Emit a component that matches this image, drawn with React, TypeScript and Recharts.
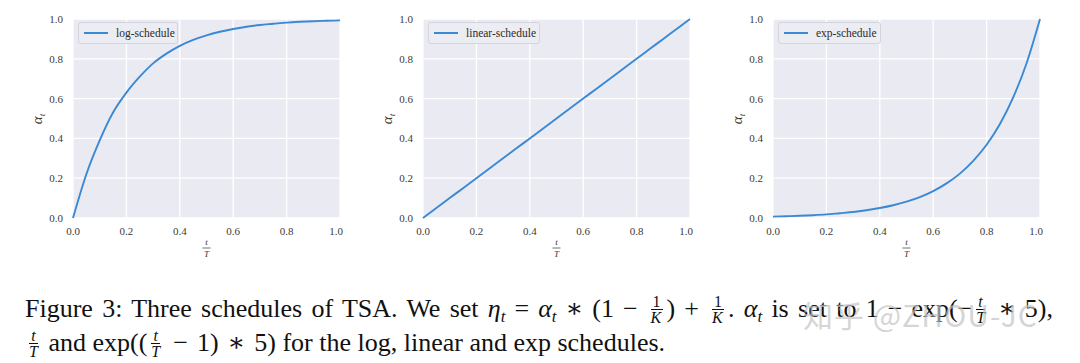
import React from "react";
import { LineChart, Line, XAxis, YAxis, CartesianGrid, Label } from "recharts";

// x positions (t / T) the curves were read at
const steps = [0, 0.05, 0.1, 0.15, 0.2, 0.25, 0.3, 0.35, 0.4, 0.45, 0.5, 0.55, 0.6, 0.65, 0.7, 0.75, 0.8, 0.85, 0.9, 0.95, 1.0];
const logValues = [0, 0.22, 0.39, 0.53, 0.63, 0.71, 0.777, 0.826, 0.865, 0.895, 0.918, 0.936, 0.95, 0.961, 0.97, 0.976, 0.982, 0.986, 0.989, 0.991, 0.993];
const linearValues = [0, 0.05, 0.1, 0.15, 0.2, 0.25, 0.3, 0.35, 0.4, 0.45, 0.5, 0.55, 0.6, 0.65, 0.7, 0.75, 0.8, 0.85, 0.9, 0.95, 1.0];
const expValues = [0.007, 0.009, 0.011, 0.014, 0.018, 0.024, 0.03, 0.039, 0.05, 0.064, 0.082, 0.105, 0.135, 0.174, 0.223, 0.287, 0.368, 0.472, 0.607, 0.779, 1.0];
const ticks = [0, 0.2, 0.4, 0.6, 0.8, 1.0];

const PANELS = [
  { name: "log-schedule", values: logValues, left: 23, legendW: 100 },
  { name: "linear-schedule", values: linearValues, left: 373, legendW: 112 },
  { name: "exp-schedule", values: expValues, left: 723, legendW: 103 },
];

const BLUE = "#3a89d4";
const SERIF = "'Liberation Serif', 'DejaVu Serif', serif";
const tickStyle = { fontSize: 11, fill: "#3a3a3a", fontFamily: SERIF };

function Panel({ name, values, left, legendW }: { name: string; values: number[]; left: number; legendW: number }) {
  const data = steps.map((x, i) => ({ x, y: values[i] }));
  return (
    <div style={{ position: "absolute", left, top: 0, fontFamily: SERIF }}>
      <LineChart width={320} height={270} data={data} margin={{ top: 19, right: 3, left: 0, bottom: 0 }} style={{ fontFamily: SERIF }}>
        <CartesianGrid fill="#eaeaf2" stroke="#ffffff" strokeWidth={1.3} horizontalValues={ticks} verticalValues={ticks} />
        <XAxis
          dataKey="x"
          type="number"
          domain={[0, 1]}
          ticks={ticks}
          tickFormatter={(v: number) => v.toFixed(1)}
          axisLine={false}
          tickLine={false}
          tick={tickStyle}
          tickSize={6}
          tickMargin={3}
          height={52}
        >
          <Label
            content={() => (
              <g fontFamily={SERIF} fill="#333" fontStyle="italic" fontSize={9}>
                <text x={183.5} y={245} textAnchor="middle">t</text>
                <line x1={179.5} x2={187.5} y1={248} y2={248} stroke="#333" strokeWidth={0.7} />
                <text x={183.5} y={257} textAnchor="middle">T</text>
              </g>
            )}
          />
        </XAxis>
        <YAxis
          type="number"
          domain={[0, 1]}
          ticks={ticks}
          tickFormatter={(v: number) => v.toFixed(1)}
          axisLine={false}
          tickLine={false}
          tick={tickStyle}
          tickSize={8}
          tickMargin={2}
          width={50}
        >
          <Label
            content={() => (
              <text
                x={0}
                y={0}
                transform="translate(19 119) rotate(-90)"
                textAnchor="middle"
                fontFamily={SERIF}
                fontSize={15}
                fill="#333"
              >
                <tspan fontStyle="italic">α</tspan>
                <tspan fontSize={9} dy={3} fontStyle="italic">t</tspan>
              </text>
            )}
          />
        </YAxis>
        <Line
          type="monotone"
          dataKey="y"
          stroke={BLUE}
          strokeWidth={1.9}
          dot={false}
          isAnimationActive={false}
        />
      </LineChart>
      <div
        style={{
          position: "absolute",
          top: 22,
          left: 55,
          width: legendW,
          height: 22,
          boxSizing: "border-box",
          border: "1px solid #d4d4dc",
          borderRadius: 3,
          background: "rgba(236,236,243,0.9)",
          display: "flex",
          alignItems: "center",
          fontSize: 11.5,
          color: "#2b2b2b",
        }}
      >
        <span style={{ display: "inline-block", width: 24, height: 2, background: BLUE, marginLeft: 5, marginRight: 8 }} />
        <span>{name}</span>
      </div>
    </div>
  );
}

function Frac({ n, d }: { n: string; d: string }) {
  return (
    <span style={{ display: "inline-block", verticalAlign: "-6px", textAlign: "center", fontSize: 16, lineHeight: "15px", margin: "0 4px" }}>
      <span style={{ display: "block", borderBottom: "1px solid #111", padding: "0 2px", fontStyle: n === "1" ? "normal" : "italic" }}>{n}</span>
      <span style={{ display: "block", fontStyle: "italic" }}>{d}</span>
    </span>
  );
}

function Sub({ base }: { base: string }) {
  return (
    <span>
      <i>{base}</i>
      <span style={{ fontSize: 17, fontStyle: "italic", position: "relative", top: 5 }}>t</span>
    </span>
  );
}

const op: React.CSSProperties = { margin: "0 9px" };
const captionLine: React.CSSProperties = {
  position: "absolute",
  left: 25,
  fontFamily: SERIF,
  fontSize: 26,
  color: "#111",
  lineHeight: "28px",
  whiteSpace: "nowrap",
};

export default function App() {
  return (
    <div style={{ position: "absolute", left: 0, top: 0, width: 1080, height: 363, background: "#ffffff", overflow: "hidden" }}>
      {PANELS.map((p) => (
        <Panel key={p.name} {...p} />
      ))}
      {/* first caption line is justified to the full text width, as in the paper */}
      <div style={{ ...captionLine, top: 294, width: 1028, whiteSpace: "normal", textAlign: "justify", textAlignLast: "justify" }}>
        Figure 3: Three schedules of TSA. We set <Sub base="η" />
        <span style={op}>=</span>
        <Sub base="α" />
        <span style={op}>∗</span>(1<span style={op}>−</span>
        <Frac n="1" d="K" />)<span style={op}>+</span>
        <Frac n="1" d="K" />. <Sub base="α" /> is set to 1<span style={op}>−</span>exp(−
        <Frac n="t" d="T" />
        <span style={op}>∗</span>5),
      </div>
      <div style={{ ...captionLine, top: 328 }}>
        <Frac n="t" d="T" /> and exp((<Frac n="t" d="T" />
        <span style={op}>−</span>1)<span style={op}>∗</span>5) for the log, linear and exp schedules.
      </div>
      <div
        style={{
          position: "absolute",
          left: 803,
          top: 292,
          fontFamily: "'Noto Sans CJK SC', sans-serif",
          fontSize: 30,
          color: "rgba(195,195,195,0.7)",
          whiteSpace: "nowrap",
          letterSpacing: 1,
        }}
      >
        知乎 @ZHOU-JC
      </div>
    </div>
  );
}
